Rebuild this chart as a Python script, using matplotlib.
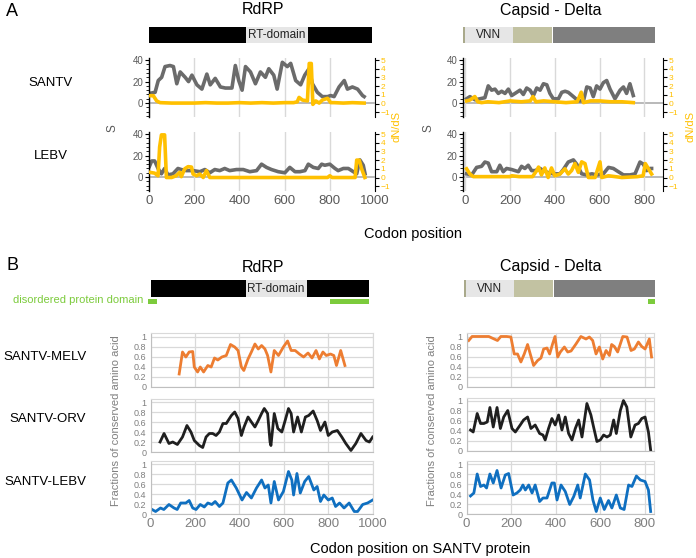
import matplotlib.pyplot as plt
from matplotlib.ticker import MultipleLocator

plt.rcParams['font.family'] = ['Liberation Sans', 'DejaVu Sans']

# ---- panel A: S (grey) and dN/dS (yellow) along codon position ----
santv_rdrp_pos = [2, 27, 41, 56, 71, 93, 108, 123, 138, 160, 175, 190, 212, 234, 256, 271, 293, 316, 338, 367,
                  382, 397, 412, 427, 449, 471, 493, 515, 530, 552, 567, 590, 612, 627, 649, 671, 689, 708, 723,
                  745, 767, 790, 804, 819, 841, 864, 878, 900, 923, 945, 952]
santv_rdrp_s = [9, 10, 21, 24, 34, 35, 34, 18, 29, 24, 20, 26, 17, 13, 27, 17, 23, 15, 14, 14,
                35, 21, 12, 34, 29, 18, 29, 24, 32, 26, 13, 38, 34, 37, 21, 17, 26, 32, 18,
                10, 6, 6, 7, 6, 15, 21, 13, 15, 13, 7, 6]
santv_rdrp_dpos = [4, 19, 34, 49, 100, 150, 200, 250, 300, 350, 400, 450, 500, 550, 600, 640, 656, 664, 679,
                   701, 709, 718, 725, 738, 753, 767, 790, 804, 819, 860, 900, 952]
santv_rdrp_dnds = [0.9, 0.9, 0.3, 0.1, 0.05, 0.05, 0.05, 0.1, 0.05, 0.05, 0.1, 0.05, 0.1, 0.05, 0.1, 0.1, 0.2,
                   0.7, 0.4, 0.3, 4.6, 4.6, -0.1, 0.3, 0.05, 0.4, 0.6, 0.1, 0.1, 0.05, 0.1, 0.05]

lebv_rdrp_pos = [2, 12, 25, 40, 55, 69, 84, 106, 128, 143, 165, 195, 225, 247, 269, 291, 313, 335, 357, 387,
                 417, 446, 476, 498, 520, 542, 572, 601, 623, 646, 668, 690, 705, 727, 749, 764, 778, 800,
                 823, 837, 860, 882, 904, 919, 933, 948, 956]
lebv_rdrp_s = [10, 15, 15, 8, 3, 8, 2, 3, 8, 7, 6, 6, 5, 7, 4, 7, 6, 8, 6, 7,
               7, 5, 6, 12, 9, 7, 5, 4, 9, 5, 5, 6, 12, 9, 8, 12, 11, 12,
               8, 6, 8, 8, 5, 3, 16, 11, 3]
lebv_rdrp_dpos = [3, 25, 40, 47, 55, 69, 77, 100, 120, 136, 143, 158, 173, 188, 195, 210, 225, 240, 254, 269,
                  300, 400, 500, 600, 700, 790, 800, 810, 900, 912, 919, 930, 941, 955]
lebv_rdrp_dnds = [0.6, 0.5, 0.2, 3.5, 4.9, 4.9, 0, 0, 0.2, 0.6, 0.1, 1.0, 1.25, 1.2, 0.4, 0.2, 0.4, 0, 0.8, 0,
                  0, 0, 0, 0, 0, 0, 0.2, 0, 0, 0, 2.0, 2.0, 1.0, 0]

santv_cap_pos = [5, 20, 43, 65, 87, 102, 117, 132, 147, 162, 177, 192, 207, 222, 244, 259, 274, 289, 304, 319,
                 334, 349, 364, 378, 393, 416, 431, 446, 460, 483, 505, 528, 543, 558, 572, 587, 602, 617,
                 632, 647, 669, 692, 707, 721, 736, 751]
santv_cap_s = [4, 6, 3, 4, 5, 16, 12, 13, 9, 11, 9, 13, 7, 9, 12, 8, 14, 12, 7, 14,
               12, 18, 17, 9, 4, 4, 10, 11, 10, 6, 2, 2, 15, 14, 6, 16, 13, 19,
               21, 13, 4, 12, 15, 9, 18, 7]
santv_cap_dpos = [5, 20, 42, 55, 72, 100, 150, 200, 250, 290, 302, 315, 350, 400, 450, 500, 518, 528, 560, 600,
                  650, 700, 751]
santv_cap_dnds = [0.3, 0.4, 0.8, 0.2, 0.1, 0.2, 0.1, 0.3, 0.2, 0.3, 0.8, 0.2, 0.3, 0.2, 0.1, 0.2, 1.3, 0.1, 0.3,
                  0.3, 0.2, 0.2, 0.1]

lebv_cap_pos = [5, 28, 50, 72, 87, 102, 117, 140, 154, 169, 184, 207, 222, 237, 251, 266, 281, 296, 311, 334,
                349, 371, 393, 423, 438, 460, 483, 498, 520, 543, 566, 587, 617, 640, 662, 684, 707, 736,
                759, 781, 796, 811, 826, 833]
lebv_cap_s = [3, 2, 9, 10, 14, 13, 5, 5, 11, 5, 8, 7, 6, 5, 10, 8, 11, 6, 6, 8,
              6, 4, 3, 3, 7, 14, 16, 12, 3, 2, 3, 2, 3, 9, 8, 5, 2, 2,
              3, 14, 12, 6, 8, 8]
lebv_cap_dpos = [5, 20, 35, 100, 150, 200, 207, 240, 300, 319, 327, 340, 355, 370, 385, 400, 423, 445, 460, 475,
                 490, 505, 520, 535, 550, 580, 602, 610, 640, 700, 770, 795, 805, 833]
lebv_cap_dnds = [1.0, 0.4, 0.1, 0.1, 0.1, 0.1, 0.2, 0.1, 0.1, 0.8, 1.2, 0.3, 1.1, 0, 1.1, 0.2, 0.4, 1.0, 0.4, 0.8,
                 1.6, 0.6, 1.8, 1.6, 0, 0, 1.8, 0, 0.2, 0, 0.1, 0.2, 1.6, 0.4]

# ---- panel B: fraction of conserved amino acids ----
melv_rdrp_pos = [129, 144, 159, 174, 190, 197, 212, 224, 239, 258, 273, 288, 303, 321, 341, 360, 379, 394, 409,
                 420, 439, 454, 470, 485, 500, 515, 527, 542, 557, 576, 598, 617, 633, 651, 670, 689, 709, 727,
                 745, 760, 776, 791, 810, 825, 837, 856, 875]
melv_rdrp = [0.25, 0.69, 0.59, 0.69, 0.70, 0.39, 0.29, 0.39, 0.29, 0.42, 0.39, 0.57, 0.53, 0.59, 0.62, 0.84, 0.79,
             0.72, 0.39, 0.32, 0.55, 0.69, 0.85, 0.75, 0.82, 0.75, 0.62, 0.29, 0.72, 0.62, 0.79, 0.91, 0.72, 0.72,
             0.65, 0.59, 0.67, 0.57, 0.72, 0.55, 0.69, 0.62, 0.65, 0.62, 0.42, 0.72, 0.42]
orv_rdrp_pos = [43, 61, 83, 100, 121, 144, 164, 182, 197, 220, 235, 250, 265, 280, 295, 310, 326, 341, 364, 379,
                394, 409, 421, 439, 454, 470, 485, 500, 512, 527, 538, 542, 557, 573, 591, 606, 621, 633, 644,
                662, 679, 697, 712, 732, 750, 765, 785, 800, 818, 841, 861, 879, 902, 924, 947, 970, 985, 1000]
orv_rdrp = [0.2, 0.37, 0.17, 0.2, 0.15, 0.3, 0.53, 0.4, 0.23, 0.13, 0.09, 0.3, 0.37, 0.37, 0.33, 0.4, 0.57, 0.57,
            0.73, 0.8, 0.67, 0.33, 0.5, 0.7, 0.6, 0.5, 0.63, 0.77, 0.87, 0.77, 0.2, 0.13, 0.77, 0.47, 0.4, 0.63,
            0.87, 0.77, 0.4, 0.7, 0.4, 0.7, 0.73, 0.82, 0.63, 0.43, 0.6, 0.33, 0.4, 0.43, 0.3, 0.17, 0.03, 0.17,
            0.37, 0.23, 0.2, 0.3]
lebv_rdrp_pos2 = [7, 23, 45, 60, 83, 106, 120, 136, 159, 174, 190, 205, 224, 242, 258, 276, 291, 310, 326, 348,
                  364, 386, 412, 432, 454, 477, 500, 515, 530, 542, 557, 576, 598, 621, 636, 644, 659, 674, 694,
                  712, 735, 750, 765, 780, 800, 818, 833, 851, 871, 894, 917, 932, 955, 977, 1000]
lebv_rdrp2 = [0.09, 0.05, 0.12, 0.09, 0.19, 0.12, 0.09, 0.22, 0.22, 0.27, 0.12, 0.09, 0.19, 0.14, 0.22, 0.19, 0.25,
              0.15, 0.22, 0.62, 0.68, 0.52, 0.28, 0.43, 0.32, 0.52, 0.68, 0.52, 0.58, 0.22, 0.65, 0.28, 0.45, 0.85,
              0.68, 0.38, 0.81, 0.42, 0.65, 0.75, 0.48, 0.55, 0.25, 0.38, 0.28, 0.32, 0.15, 0.22, 0.12, 0.22, 0.05,
              0.05, 0.19, 0.22, 0.28]

melv_cap_pos = [10, 25, 60, 100, 124, 139, 154, 180, 199, 214, 229, 244, 259, 274, 286, 301, 319, 334, 346, 361,
                373, 386, 397, 409, 421, 439, 454, 469, 491, 513, 536, 551, 566, 581, 596, 611, 626, 641, 651,
                663, 678, 701, 720, 738, 753, 771, 786, 801, 820, 830]
melv_cap = [0.92, 1.0, 1.0, 1.0, 0.95, 0.92, 1.0, 1.0, 0.99, 0.65, 0.65, 0.49, 0.65, 0.84, 0.65, 0.42, 0.52, 0.57,
            0.75, 0.77, 0.65, 0.85, 1.0, 0.59, 0.69, 0.79, 0.69, 0.71, 0.85, 1.0, 0.95, 0.99, 0.92, 0.65, 0.79,
            0.55, 0.72, 0.62, 0.84, 0.80, 0.69, 1.0, 0.99, 0.72, 0.75, 0.89, 0.80, 0.75, 0.95, 0.59]
orv_cap_pos = [18, 30, 48, 63, 78, 93, 105, 120, 137, 152, 167, 185, 204, 219, 241, 256, 274, 289, 308, 328,
               343, 353, 368, 383, 398, 413, 428, 443, 458, 473, 488, 503, 518, 540, 558, 570, 585, 600, 615,
               630, 645, 660, 672, 690, 704, 719, 737, 756, 771, 786, 801, 816, 826]
orv_cap = [0.42, 0.38, 0.75, 0.55, 0.55, 0.58, 0.87, 0.48, 0.87, 0.45, 0.68, 0.81, 0.45, 0.38, 0.52, 0.62, 0.68,
           0.45, 0.52, 0.35, 0.32, 0.22, 0.45, 0.65, 0.52, 0.72, 0.42, 0.68, 0.35, 0.22, 0.45, 0.62, 0.28, 0.95,
           0.72, 0.48, 0.19, 0.22, 0.32, 0.28, 0.32, 0.62, 0.35, 0.81, 1.01, 0.88, 0.28, 0.52, 0.55, 0.65, 0.68,
           0.38, 0.02]
lebv_cap_pos2 = [18, 33, 48, 63, 78, 90, 105, 120, 137, 155, 174, 189, 209, 226, 241, 253, 264, 279, 294, 308,
                 328, 343, 361, 383, 394, 406, 424, 443, 463, 481, 499, 510, 533, 552, 567, 582, 600, 618, 637,
                 652, 672, 690, 707, 727, 742, 762, 780, 801, 816, 826]
lebv_cap2 = [0.36, 0.42, 0.80, 0.55, 0.58, 0.52, 0.80, 0.62, 0.87, 0.52, 0.78, 0.81, 0.38, 0.42, 0.48, 0.58, 0.48,
             0.58, 0.42, 0.58, 0.25, 0.32, 0.32, 0.62, 0.62, 0.28, 0.58, 0.45, 0.19, 0.35, 0.58, 0.32, 0.80, 0.68,
             0.28, 0.05, 0.32, 0.09, 0.27, 0.12, 0.38, 0.12, 0.09, 0.58, 0.55, 0.76, 0.68, 0.65, 0.48, 0.05]

# ---- protein domain maps (codon ranges) ----
rdrp_domains = [(0, 985), (428, 703)]
rdrp_colors = ['black', '#e6e6e6']
rdrp_labels = ['', 'RT-domain']
capsid_domains = [(-10, -2), (-2, 212), (212, 387), (391, 846)]
capsid_colors = ['#a9a98b', '#e6e6e6', '#c2c2a2', '#7f7f7f']
capsid_labels = ['', 'VNN', '', '']
rdrp_disordered = [(-10, 30), (808, 985)]
capsid_disordered = [(814, 846)]

W, H = 696, 558
fig = plt.figure(figsize=(W / 100, H / 100), dpi=100)
GREY = '#595959'
LGREY = '#7f7f7f'
YEL = '#ffc000'
GREEN = '#7ccb3c'


def px_axes(x0, y0, x1, y1):
    return fig.add_axes([x0 / W, 1 - y1 / H, (x1 - x0) / W, (y1 - y0) / H])


def ftext(x, y, s, **kw):
    fig.text(x / W, 1 - y / H, s, ha=kw.pop('ha', 'center'), va=kw.pop('va', 'center'), **kw)


def sel_plot(x0, x1, y0, y1, xlim, xticks, pos, s, dpos, dnds, bottom):
    ax = px_axes(x0, y0, x1, y1)
    ax.set_xlim(xlim)
    ax.set_ylim(-13, 42)
    for sp in ['top', 'right', 'bottom']:
        ax.spines[sp].set_visible(False)
    ax.spines['left'].set_linewidth(1)
    ax.set_yticks([0, 20, 40])
    ax.yaxis.set_minor_locator(MultipleLocator(4))
    ax.tick_params(axis='y', which='major', length=3, labelsize=7, labelcolor=GREY, pad=1)
    ax.tick_params(axis='y', which='minor', length=2)
    ax.set_xticks(xticks)
    ax.grid(axis='x', color='#d9d9d9', lw=1)
    ax.axhline(0, color='#b3b3b3', lw=1.3, zorder=1)
    ax.plot(pos, s, color='#6b6b6b', lw=2.6, solid_joinstyle='round', zorder=2)
    if bottom:
        ax.tick_params(axis='x', length=0, labelsize=9.5, labelcolor=GREY, pad=3)
    else:
        ax.tick_params(axis='x', length=0, labelbottom=False)
    ax2 = ax.twinx()
    ax2.set_ylim(-1.55, 5.23)
    for sp in ['top', 'left', 'bottom']:
        ax2.spines[sp].set_visible(False)
    ax2.set_yticks(range(-1, 6))
    ax2.tick_params(axis='y', length=3, labelsize=6, labelcolor=YEL, pad=1)
    ax2.plot(dpos, dnds, color=YEL, lw=2.6, solid_joinstyle='round')


def cons_plot(x0, x1, y0, y1, xlim, xticks, pos, vals, color, bottom):
    ax = px_axes(x0, y0, x1, y1)
    ax.set_xlim(xlim)
    ax.set_ylim(0, 1.07)
    ax.set_xticks(xticks)
    ax.set_yticks([0, 0.2, 0.4, 0.6, 0.8, 1])
    ax.set_yticklabels(['0', '0.2', '0.4', '0.6', '0.8', '1'])
    ax.grid(True, color='#d9d9d9', lw=0.9)
    for sp in ax.spines.values():
        sp.set_color('#d9d9d9')
    ax.spines['left'].set_color('#bfbfbf')
    ax.spines['bottom'].set_color('#bfbfbf')
    ax.tick_params(axis='y', length=0, labelsize=6.5, labelcolor=LGREY, pad=3)
    if bottom:
        ax.tick_params(axis='x', length=0, labelsize=9.5, labelcolor=LGREY, pad=3)
    else:
        ax.tick_params(axis='x', length=0, labelbottom=False)
    ax.plot(pos, vals, color=color, lw=2.0, solid_joinstyle='round')


def domain_bar(x0, x1, y0, y1, xlim, doms, colors, labels):
    ax = px_axes(x0, y0, x1, y1)
    ax.set_xlim(xlim)
    ax.set_ylim(0, 1)
    ax.axis('off')
    for (a, b), c, lab in zip(doms, colors, labels):
        ax.barh(0.5, b - a, left=a, height=1, color=c, clip_on=False)
        if lab:
            ax.text((a + b) / 2, 0.5, lab, ha='center', va='center', fontsize=8.5, color='#222222')


# ---------------- panel A ----------------
xl_A, xr_A = (149, 375), (463, 663)
lim_l, lim_r = (0, 1000), (-11, 884)
ticks_l, ticks_r = [0, 200, 400, 600, 800, 1000], [0, 200, 400, 600, 800]

domain_bar(*xl_A, 27, 43, lim_l, rdrp_domains, rdrp_colors, rdrp_labels)
domain_bar(*xr_A, 27, 43, lim_r, capsid_domains, capsid_colors, capsid_labels)
sel_plot(*xl_A, 58, 117, lim_l, ticks_l, santv_rdrp_pos, santv_rdrp_s, santv_rdrp_dpos, santv_rdrp_dnds, False)
sel_plot(*xl_A, 132, 191, lim_l, ticks_l, lebv_rdrp_pos, lebv_rdrp_s, lebv_rdrp_dpos, lebv_rdrp_dnds, True)
sel_plot(*xr_A, 58, 117, lim_r, ticks_r, santv_cap_pos, santv_cap_s, santv_cap_dpos, santv_cap_dnds, False)
sel_plot(*xr_A, 132, 191, lim_r, ticks_r, lebv_cap_pos, lebv_cap_s, lebv_cap_dpos, lebv_cap_dnds, True)

ftext(12, 12, 'A', fontsize=13)
ftext(263, 10, 'RdRP', fontsize=11.5)
ftext(551, 10, 'Capsid - Delta', fontsize=11.5)
ftext(51, 83, 'SANTV', fontsize=9.5)
ftext(51, 156, 'LEBV', fontsize=9.5)
for xs, xd in [(113, 396), (429, 690)]:
    ftext(xs, 128, 'S', rotation=90, fontsize=8.5, color=GREY)
    ftext(xd, 127, 'dN/dS', rotation=90, fontsize=8, color=YEL)
ftext(413, 234, 'Codon position', fontsize=10.5)

# ---------------- panel B ----------------
xl_B, xr_B = (150.5, 372.7), (466.5, 654)
limB_l, limB_r = (0, 1000), (0, 841)

domain_bar(*xl_B, 280, 297, limB_l, rdrp_domains, rdrp_colors, rdrp_labels)
domain_bar(*xr_B, 280, 297, limB_r, capsid_domains, capsid_colors, capsid_labels)
domain_bar(*xl_B, 299, 303.5, limB_l, rdrp_disordered, [GREEN] * 2, ['', ''])
domain_bar(*xr_B, 299, 303.5, limB_r, capsid_disordered, [GREEN], [''])

cons_plot(*xl_B, 333, 386.5, limB_l, ticks_l, melv_rdrp_pos, melv_rdrp, '#ed7d31', False)
cons_plot(*xl_B, 398.5, 452, limB_l, ticks_l, orv_rdrp_pos, orv_rdrp, '#1f1f1f', False)
cons_plot(*xl_B, 460.5, 514, limB_l, ticks_l, lebv_rdrp_pos2, lebv_rdrp2, '#0f6fc0', True)
cons_plot(*xr_B, 333, 386.5, limB_r, ticks_r, melv_cap_pos, melv_cap, '#ed7d31', False)
cons_plot(*xr_B, 397.5, 451, limB_r, ticks_r, orv_cap_pos, orv_cap, '#1f1f1f', False)
cons_plot(*xr_B, 460.5, 514, limB_r, ticks_r, lebv_cap_pos2, lebv_cap2, '#0f6fc0', True)

ftext(12, 266, 'B', fontsize=13)
ftext(263, 267, 'RdRP', fontsize=11.5)
ftext(551, 267, 'Capsid - Delta', fontsize=11.5)
ftext(143, 300, 'disordered protein domain', ha='right', fontsize=8, color=GREEN)
ftext(45, 357, 'SANTV-MELV', fontsize=9.5)
ftext(48, 419, 'SANTV-ORV', fontsize=9.5)
ftext(45, 482, 'SANTV-LEBV', fontsize=9.5)
for xl in (116, 432):
    ftext(xl, 421, 'Fractions of conserved amino acid', rotation=90, fontsize=8, color=LGREY)
ftext(420, 549, 'Codon position on SANTV protein', fontsize=10.5)

fig.savefig('out.png', dpi=100)
